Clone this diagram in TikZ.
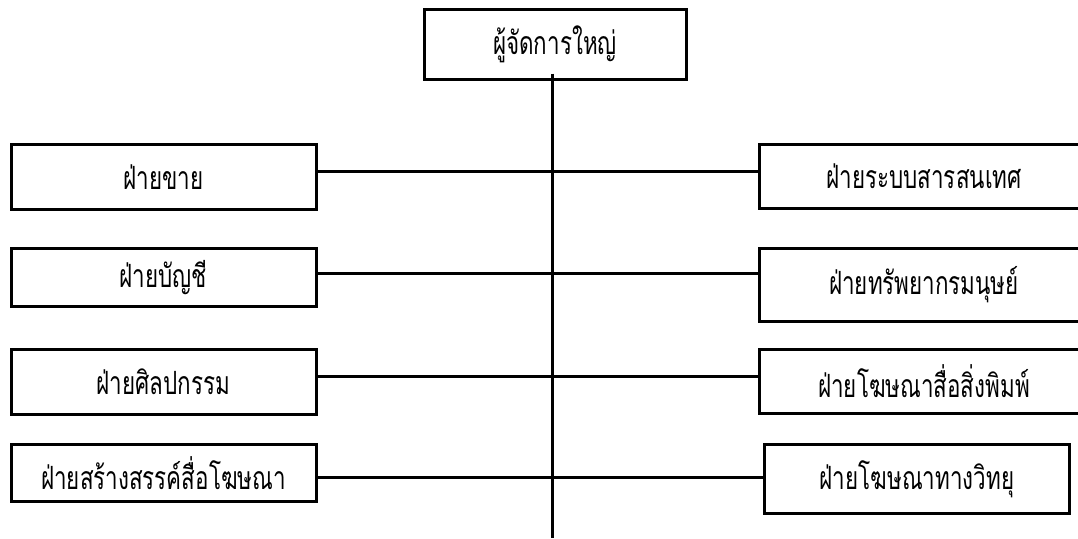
\documentclass[tikz,border=0pt]{standalone}
\usepackage{fontspec}
\newfontfamily\thaifont[Script=Thai,FakeStretch=0.7]{Loma}
\begin{document}
\begin{tikzpicture}[
    x=1pt, y=-1pt,
    every node/.style={font=\thaifont\fontsize{32}{38}\selectfont},
    unit/.style={draw, line width=3pt, inner sep=0pt, minimum width=305pt},
    link/.style={line width=3pt}
]
\useasboundingbox (0,0) rectangle (1078,538);
\node[unit, minimum width=262pt, minimum height=70pt] (gm) at (555,44) {ผู้จัดการใหญ่};
\node[unit, minimum height=65pt] (l1) at (163.5,177) {ฝ่ายขาย};
\node[unit, minimum height=58pt] (l2) at (163.5,277.5) {ฝ่ายบัญชี};
\node[unit, minimum height=65pt] (l3) at (163.5,382) {ฝ่ายศิลปกรรม};
\node[unit, minimum height=57pt] (l4) at (163.5,473) {ฝ่ายสร้างสรรค์สื่อโฆษณา};
\node[unit, minimum width=330pt, minimum height=64pt] (r1) at (924,176.5) {ฝ่ายระบบสารสนเทศ};
\node[unit, minimum width=330pt, minimum height=73pt] (r2) at (924,285) {ฝ่ายทรัพยากรมนุษย์};
\node[unit, minimum width=330pt, minimum height=64pt] (r3) at (924,381.5) {ฝ่ายโฆษณาสื่อสิ่งพิมพ์};
\node[unit, minimum height=69pt] (r4) at (917,479) {ฝ่ายโฆษณาทางวิทยุ};
\coordinate (base) at (552,538);
\coordinate (t1) at (552,171);
\coordinate (t2) at (552,273);
\coordinate (t3) at (552,376);
\coordinate (t4) at (552,477);
\draw[link] (base |- gm.south) ++(0,-7) -- (base);
\foreach \i in {1,...,4}
    \draw[link] (l\i.east |- t\i) -- (r\i.west |- t\i);
\end{tikzpicture}
\end{document}
